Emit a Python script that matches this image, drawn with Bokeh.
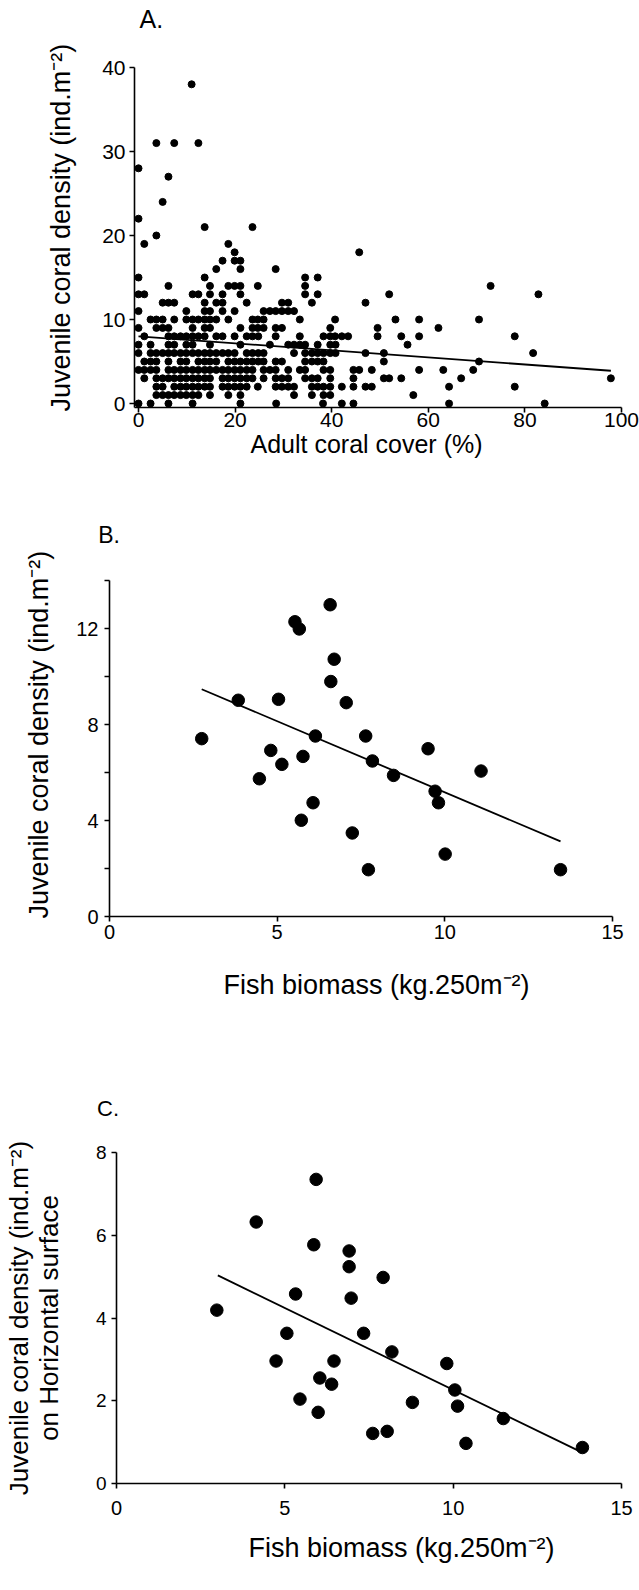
from bokeh.plotting import figure
from bokeh.layouts import column
from bokeh.models import Range1d, FixedTicker, Label, Title
from bokeh.embed import file_html
from bokeh.resources import INLINE

FONT = "Liberation Sans"
INK = "#000000"

# ---------------- Panel A: adult coral cover (%) vs juvenile density ----------------
# cover values (x) at each observed juvenile density (y, ind.m-2)
cover_d0 = [0.0, 2.5, 6.2, 11.2, 21.1, 28.5, 38.2, 42.1, 44.5, 64.3, 84.1]
cover_d1 = [3.7, 5.0, 6.2, 7.4, 8.7, 9.9, 11.2, 12.4, 14.8, 18.6, 21.1, 32.2, 35.9, 38.3, 39.7, 56.9]
cover_d2 = [3.7, 5.0, 7.4, 8.7, 9.9, 11.2, 12.4, 13.7, 14.8, 17.4, 18.6, 19.9, 21.1, 22.4, 24.7,
            28.4, 29.7, 31.0, 32.2, 35.9, 37.1, 38.3, 39.7, 42.1, 44.5, 47.0, 48.3, 64.3, 77.9]
cover_d3 = [1.2, 3.7, 5.0, 6.2, 7.4, 8.7, 9.9, 11.2, 12.4, 13.7, 14.8, 17.4, 18.6, 19.9, 21.1,
            22.4, 23.6, 25.9, 28.4, 29.7, 31.0, 34.5, 35.9, 37.1, 39.7, 44.5, 50.8, 51.9, 54.4,
            66.8, 97.8]
cover_d4 = [0.0, 1.2, 2.5, 3.7, 6.2, 7.4, 8.7, 9.9, 11.2, 12.4, 13.7, 14.8, 16.1, 17.4, 18.6,
            19.9, 21.1, 22.4, 23.6, 25.9, 27.2, 28.4, 31.0, 33.4, 34.5, 38.3, 39.7, 44.5, 45.7,
            48.3, 58.1, 63.1, 69.3]
cover_d5 = [1.2, 2.5, 3.7, 6.2, 8.7, 9.9, 12.4, 13.7, 14.8, 16.1, 18.6, 19.9, 21.1, 22.4, 23.6,
            24.8, 25.9, 28.4, 29.7, 34.5, 35.9, 37.1, 38.3, 50.8, 70.5]
cover_d6 = [0.0, 2.5, 3.7, 5.0, 6.2, 7.4, 8.7, 9.9, 11.2, 12.4, 13.7, 14.8, 16.1, 17.4, 18.6,
            19.9, 22.4, 23.6, 24.8, 25.9, 32.2, 34.5, 35.9, 37.1, 38.3, 39.7, 40.8, 47.0, 50.8,
            81.7]
cover_d7 = [0.0, 2.5, 6.2, 7.4, 9.9, 11.2, 14.8, 21.1, 27.2, 31.0, 32.2, 33.4, 34.5, 37.1, 39.7,
            40.8, 55.7]
cover_d8 = [1.2, 6.2, 7.4, 8.7, 9.9, 11.2, 12.4, 13.7, 16.1, 17.4, 19.9, 22.4, 23.6, 24.8, 28.4,
            33.4, 38.3, 39.7, 40.7, 42.1, 43.4, 49.5, 54.4, 58.1, 77.9]
cover_d9 = [0.0, 3.7, 5.0, 6.2, 11.2, 13.7, 14.8, 21.1, 23.6, 24.7, 25.9, 28.4, 29.7, 39.7, 49.5,
            62.1]
cover_d10 = [2.5, 3.7, 5.0, 7.4, 9.9, 11.2, 12.4, 13.7, 14.8, 16.1, 18.6, 23.6, 24.7, 25.9, 33.4,
             40.7, 53.2, 58.1, 70.5]
cover_d11 = [0.0, 9.9, 13.7, 14.8, 17.4, 19.9, 25.9, 27.2, 28.4, 29.7, 31.0, 32.2]
cover_d12 = [5.0, 6.2, 7.4, 13.7, 16.1, 17.4, 22.4, 29.7, 31.0, 35.9, 47.0]
cover_d13 = [0.0, 1.2, 11.2, 12.4, 14.8, 17.4, 21.1, 34.5, 37.1, 51.9, 82.8]
cover_d14 = [6.2, 14.8, 18.6, 19.9, 21.1, 24.7, 34.5, 72.9]
cover_d15 = [0.0, 13.7, 34.5, 37.1]
cover_d16 = [16.1, 21.1, 28.4]
cover_d17 = [17.4, 19.9, 21.1]
cover_d18 = [19.9, 45.7]
cover_d19 = [1.2, 18.6]
cover_d20 = [3.7]
cover_d21 = [13.7, 23.6]
cover_d22 = [0.0]
cover_d24 = [5.0]
cover_d27 = [6.2]
cover_d28 = [0.0]
cover_d31 = [3.7, 7.4, 12.4]
cover_d38 = [11.0]

a_rows = [(0, cover_d0), (1, cover_d1), (2, cover_d2), (3, cover_d3), (4, cover_d4),
          (5, cover_d5), (6, cover_d6), (7, cover_d7), (8, cover_d8), (9, cover_d9),
          (10, cover_d10), (11, cover_d11), (12, cover_d12), (13, cover_d13), (14, cover_d14),
          (15, cover_d15), (16, cover_d16), (17, cover_d17), (18, cover_d18), (19, cover_d19),
          (20, cover_d20), (21, cover_d21), (22, cover_d22), (24, cover_d24), (27, cover_d27),
          (28, cover_d28), (31, cover_d31), (38, cover_d38)]
a_cover = [x for d, xs in a_rows for x in xs]
a_density = [d for d, xs in a_rows for x in xs]
a_fit_x = [0.0, 97.8]
a_fit_y = [8.0, 3.9]
a_xticks = [0, 20, 40, 60, 80, 100]
a_yticks = [0, 10, 20, 30, 40]

# ---------------- Panel B: fish biomass vs juvenile density ----------------
b_fish = [2.75, 3.84, 4.47, 4.81, 5.04, 5.14, 5.53, 5.66, 5.72, 5.77, 6.07, 6.14, 6.58, 6.60,
          6.70, 7.06, 7.24, 7.64, 7.72, 7.84, 8.47, 9.50, 9.71, 9.81, 10.01, 11.08, 13.45]
b_juv = [7.41, 9.01, 5.74, 6.92, 9.05, 6.34, 12.28, 11.98, 4.01, 6.67, 4.74, 7.52, 12.99, 9.79,
         10.72, 8.91, 3.48, 7.52, 1.95, 6.48, 5.88, 6.99, 5.22, 4.74, 2.60, 6.06, 1.95]
b_fit_x = [2.75, 13.45]
b_fit_y = [9.47, 3.13]
b_xticks = [0, 5, 10, 15]
b_yticks = [0, 4, 8, 12]
b_yminor = [2, 6, 10, 14]

# ---------------- Panel C: fish biomass vs juvenile density on horizontal surface ----------------
c_fish = [2.98, 4.15, 4.74, 5.06, 5.32, 5.45, 5.86, 5.93, 5.99, 6.04, 6.39, 6.46, 6.91, 6.91,
          6.97, 7.34, 7.61, 7.92, 8.04, 8.18, 8.79, 9.81, 10.05, 10.13, 10.38, 11.49, 13.84]
c_juv = [4.19, 6.32, 2.96, 3.63, 4.58, 2.04, 5.77, 7.35, 1.72, 2.55, 2.40, 2.96, 5.62, 5.24,
         4.48, 3.63, 1.21, 4.98, 1.26, 3.18, 1.96, 2.90, 2.26, 1.87, 0.97, 1.57, 0.87]
c_fit_x = [3.01, 13.78]
c_fit_y = [5.03, 0.77]
c_xticks = [0, 5, 10, 15]
c_yticks = [0, 2, 4, 6, 8]

Y_TITLE = "Juvenile coral density (ind.m\u207b\u00b2)"
X_TITLE_A = "Adult coral cover (%)"
X_TITLE_BC = "Fish biomass (kg.250m\u207b\u00b2)"
Y_TITLE_C2 = "on Horizontal surface"


def make_panel(width, height, left, right, top, bottom, xr, yr):
    p = figure(width=width, height=height,
               min_border_left=left, min_border_right=right,
               min_border_top=top, min_border_bottom=bottom,
               x_range=Range1d(*xr), y_range=Range1d(*yr),
               output_backend="svg", toolbar_location=None, tools="")
    p.frame_align = False
    p.grid.visible = False
    p.outline_line_color = None
    p.background_fill_color = "white"
    p.border_fill_color = "white"
    for ax in (p.xaxis[0], p.yaxis[0]):
        ax.axis_line_color = INK
        ax.axis_line_width = 1.6
        ax.major_tick_line_color = INK
        ax.major_tick_line_width = 1.6
        ax.major_tick_in = 0
        ax.major_tick_out = 5
        ax.minor_tick_line_color = None
        ax.major_label_text_font = FONT
        ax.major_label_text_color = INK
    return p


def side_title(p, side, text, size, offset, standoff, valign="bottom", align="left"):
    p.add_layout(Title(text=text, align=align, offset=offset, standoff=standoff,
                       vertical_align=valign, text_font=FONT, text_font_size=size,
                       text_font_style="normal", text_color=INK), side)


W = 639

# ---- Panel A (page rows 0..485) ----
A_TOP, A_H = 0, 485
AL, AR, AB = 134, 621, 407            # frame left / right / bottom (page px)
AX0, AY0, AY40 = 138, 403, 67         # data 0 and 40 positions
a_ppx = (AR - AX0) / 100.0
a_ppy = (AY0 - AY40) / 40.0
a_y0 = -(AB - AY0) / a_ppy
a_y1 = 40 + (AY40 - A_TOP) / a_ppy
pA = make_panel(W, A_H, AL, W - AR, 0, A_TOP + A_H - AB,
                (-(AX0 - AL) / a_ppx, 100), (a_y0, a_y1))
pA.xaxis.ticker = FixedTicker(ticks=a_xticks)
pA.yaxis.ticker = FixedTicker(ticks=a_yticks)
pA.yaxis.bounds = (a_y0, 40)
pA.xaxis.major_label_text_font_size = "21px"
pA.yaxis.major_label_text_font_size = "21px"
pA.xaxis.major_label_standoff = 0
pA.yaxis.major_label_standoff = 4
pA.scatter(a_cover, a_density, size=7, color=INK)
pA.line(a_fit_x, a_fit_y, line_color=INK, line_width=1.8)
pA.add_layout(Label(x=(139 - AX0) / a_ppx, y=(AY0 - 18.5) / a_ppy, text="A.",
                    text_font=FONT, text_font_size="25px", text_color=INK,
                    text_align="left", text_baseline="alphabetic"))
side_title(pA, "left", Y_TITLE, "27px", offset=AB - 411, standoff=47)
side_title(pA, "below", X_TITLE_A, "25px", offset=250 - AL, standoff=1, valign="top")

# ---- Panel B (page rows 485..1040) ----
B_TOP, B_H = 485, 555
BL, BR, BB, BT = 109, 612, 916, 580   # axis x0, x15, y0, y14 (page px)
pB = make_panel(W, B_H, BL, W - BR, BT - B_TOP, B_TOP + B_H - BB, (0, 15), (0, 14))
pB.xaxis.ticker = FixedTicker(ticks=b_xticks)
pB.yaxis.ticker = FixedTicker(ticks=b_yticks, minor_ticks=b_yminor)
pB.yaxis.minor_tick_line_color = INK
pB.yaxis.minor_tick_line_width = 1.6
pB.yaxis.minor_tick_in = 0
pB.yaxis.minor_tick_out = 5
pB.xaxis.major_label_text_font_size = "20px"
pB.yaxis.major_label_text_font_size = "20px"
pB.xaxis.major_label_standoff = 3
pB.yaxis.major_label_standoff = 6
pB.scatter(b_fish, b_juv, size=12.5, color=INK)
pB.line(b_fit_x, b_fit_y, line_color=INK, line_width=1.8)
side_title(pB, "above", "B.", "23px", offset=BR - 119.5, standoff=65, align="right")
side_title(pB, "left", Y_TITLE, "27px", offset=BB - 918, standoff=40)
side_title(pB, "below", X_TITLE_BC, "27px", offset=223 - BL, standoff=57, valign="top")

# ---- Panel C (page rows 1040..1590) ----
C_TOP, C_H = 1040, 550
CL, CR, CB, CT = 109, 621, 1483, 1152
pC = make_panel(W, C_H, CL, W - CR, CT - C_TOP, C_TOP + C_H - CB, (0, 15), (0, 8))
pC.xaxis.ticker = FixedTicker(ticks=c_xticks)
pC.yaxis.ticker = FixedTicker(ticks=c_yticks)
pC.xaxis.major_label_text_font_size = "20px"
pC.yaxis.major_label_text_font_size = "19px"
pC.xaxis.major_label_standoff = 12
pC.yaxis.major_label_standoff = 5
pC.yaxis.axis_label = Y_TITLE + "\n" + Y_TITLE_C2
pC.yaxis.axis_label_text_font = FONT
pC.yaxis.axis_label_text_font_size = "26px"
pC.yaxis.axis_label_text_font_style = "normal"
pC.yaxis.axis_label_text_color = INK
pC.yaxis.axis_label_text_line_height = 1.0
pC.yaxis.axis_label_standoff = 29
pC.scatter(c_fish, c_juv, size=12.5, color=INK)
pC.line(c_fit_x, c_fit_y, line_color=INK, line_width=1.8)
side_title(pC, "above", "C.", "22px", offset=CR - 118.5, standoff=63, align="right")
side_title(pC, "below", X_TITLE_BC, "27px", offset=241 - CL, standoff=31, valign="top")

layout = column(pA, pB, pC, spacing=0)
open("out.html", "w").write(file_html(layout, INLINE))
